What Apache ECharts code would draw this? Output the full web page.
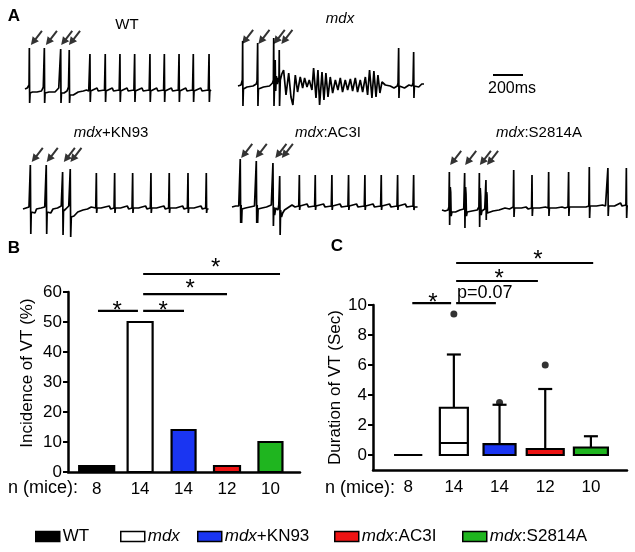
<!DOCTYPE html>
<html><head><meta charset="utf-8">
<script src="https://cdn.jsdelivr.net/npm/echarts@6/dist/echarts.min.js"></script>
<style>html,body{margin:0;padding:0;background:#fff}#c{width:635px;height:552px}</style>
</head><body><div id="c"></div>
<script>
// ---------------- data ----------------
const groups = ['WT', 'mdx', 'mdx+KN93', 'mdx:AC3I', 'mdx:S2814A'];
const nMice = ['8', '14', '14', '12', '10'];
const incidenceVT = [2, 50, 14, 2, 10];               // %
const incidenceTicks = [0, 10, 20, 30, 40, 50, 60];
// duration of VT (sec): [min, q1, median, q3, max]
const durationBox = [
  [0, 0, 0, 0, 0],
  [0, 0, 0.8, 3.15, 6.7],
  [0, 0, 0, 0.73, 3.35],
  [0, 0, 0, 0.4, 4.4],
  [0, 0, 0, 0.5, 1.25]
];
const durationOutliers = [[1, 9.4], [2, 3.5], [3, 6.0]];
const durationTicks = [0, 2, 4, 6, 8, 10];
// significance brackets: [x1, x2, yLine, xLabel, yLabel, label]
const sigB = [
  [0.03, 0.95, 53.7, 0.47, 55.7, '*'],
  [1.07, 2.01, 53.7, 1.53, 55.7, '*'],
  [1.07, 3.00, 59.3, 2.15, 63.0, '*'],
  [1.07, 4.22, 66.0, 2.74, 70.0, '*']
];
const sigC = [
  [0.09, 0.94, 10.13, 0.54, 10.53, '*'],
  [1.05, 1.92, 10.13, 1.07, 10.8, 'p=0.07'],
  [1.05, 2.84, 11.6, 1.99, 12.13, '*'],
  [1.05, 4.05, 12.8, 2.84, 13.4, '*']
];
// ECG traces: [time (ms), amplitude (a.u.)]
const traceWT = [[0,2],[15,3],[24,4],[27,6],[29,43],[31,-12],[34,-2],[50,-1],[80,-1],[110,0],[122,4],[127,5],[129,43],[131,-12],[134,-2],[160,-1],[200,-1],[225,3],[233,5],[238,42],[240,-12],[243,-2],[260,-2],[280,0],[290,4],[295,41],[297,-12],[300,-4],[322,-4],[355,-1],[389,0],[410,1],[425,0],[431,1],[433,37],[435,-11],[438,0],[480,3],[488,0],[530,1],[535,37],[537,-11],[540,0],[582,3],[590,0],[628,1],[633,37],[635,-11],[638,0],[680,3],[688,0],[726,1],[731,37],[733,-11],[736,0],[780,3],[788,0],[828,1],[833,37],[835,-11],[838,0],[878,3],[886,0],[924,1],[929,37],[931,-11],[934,0],[976,3],[984,0],[1022,1],[1027,37],[1029,-11],[1032,0],[1072,3],[1080,0],[1117,1],[1122,37],[1124,-11],[1127,0],[1172,3],[1180,0],[1222,1],[1227,37],[1229,-11],[1232,0],[1240,1]];
const traceMdx = [[0,0],[20,1],[27,3],[29,6],[31,45],[33,-20],[36,-3],[60,-1],[100,0],[122,2],[127,5],[129,5],[131,43],[133,-20],[136,-3],[170,-1],[210,0],[230,3],[236,6],[238,48],[240,-20],[243,-3],[248,26],[251,-5],[256,10],[262,2],[268,8],[273,4],[275,36],[277,-20],[282,6],[292,12],[304,16],[320,-9],[338,13],[353,-11],[366,-19],[382,11],[397,-6],[415,9],[431,-2],[444,8],[460,-1],[475,6],[493,-4],[504,18],[520,-12],[533,16],[544,-19],[560,14],[573,-14],[586,13],[600,-11],[615,9],[631,-7],[649,6],[666,-4],[682,8],[697,-6],[715,6],[731,-4],[749,7],[764,-5],[782,8],[797,-6],[815,6],[831,-6],[849,9],[864,-9],[877,16],[893,-12],[906,15],[920,-11],[933,11],[946,-7],[960,4],[982,1],[1015,0],[1040,-2],[1062,0],[1067,3],[1071,38],[1073,-12],[1076,0],[1110,-2],[1140,1],[1160,0],[1167,3],[1171,34],[1173,-12],[1176,0],[1205,-1],[1225,2],[1240,2]];
const traceKN93 = [[0,0],[20,1],[40,2],[46,4],[49,44],[52,-25],[55,-3],[62,-1],[80,-4],[90,0],[120,1],[145,2],[152,4],[155,44],[158,-25],[161,-3],[185,-4],[200,0],[230,1],[255,3],[261,5],[264,37],[267,-26],[270,-2],[285,0],[305,3],[312,5],[315,40],[318,-28],[322,-8],[340,-7],[365,-3],[400,-1],[430,0],[455,2],[465,0],[485,1],[489,36],[491,-4],[494,1],[520,1],[575,3],[585,0],[607,1],[611,36],[613,-4],[616,1],[650,1],[695,3],[705,0],[727,1],[731,36],[733,-4],[736,1],[770,1],[817,3],[827,0],[849,1],[853,36],[855,-4],[858,1],[890,1],[939,3],[949,0],[971,1],[975,36],[977,-4],[980,1],[1020,1],[1064,3],[1074,0],[1096,1],[1100,36],[1102,-4],[1105,1],[1140,1],[1186,3],[1196,0],[1218,1],[1222,36],[1224,-4],[1227,0],[1237,0]];
const traceAC3I = [[0,0],[25,1],[45,1],[52,3],[55,48],[58,-16],[61,2],[64,-16],[67,-2],[90,-1],[120,0],[150,1],[159,3],[162,46],[165,-16],[168,2],[171,-16],[174,-2],[200,-1],[230,0],[262,2],[270,3],[273,44],[276,-19],[279,0],[284,-8],[292,-1],[306,-3],[312,2],[318,31],[321,-28],[324,-3],[330,-10],[338,-6],[350,-3],[370,-1],[400,2],[420,0],[445,1],[449,32],[451,-3],[454,1],[500,3],[510,0],[551,1],[555,32],[557,-3],[560,1],[610,3],[620,0],[662,1],[666,32],[668,-3],[671,1],[720,3],[730,0],[773,1],[777,32],[779,-3],[782,1],[830,3],[840,0],[882,1],[886,32],[888,-3],[891,1],[940,3],[950,0],[991,1],[995,32],[997,-3],[1000,1],[1050,3],[1060,0],[1100,1],[1104,32],[1106,-3],[1109,1],[1155,3],[1165,0],[1207,1],[1211,32],[1213,-3],[1216,0],[1237,0]];
const traceS2814A = [[0,0],[20,-1],[40,0],[46,3],[49,38],[51,-15],[53,10],[55,23],[58,18],[61,-6],[66,-2],[90,-2],[120,0],[145,1],[148,3],[151,37],[153,-18],[155,10],[157,23],[160,16],[163,-6],[168,-2],[200,-1],[235,0],[246,3],[249,37],[251,-17],[253,8],[255,22],[258,14],[261,-5],[266,-1],[285,1],[290,3],[293,30],[295,-10],[298,18],[300,15],[303,-3],[310,-2],[340,-1],[380,0],[420,2],[450,1],[475,3],[478,40],[480,-7],[483,2],[530,2],[560,3],[575,1],[597,2],[600,35],[602,-6],[605,2],[650,2],[690,3],[708,2],[711,38],[713,-6],[716,2],[760,2],[800,3],[820,2],[840,3],[844,38],[846,-6],[849,3],[900,3],[940,3],[960,3],[979,4],[982,43],[984,-8],[987,4],[1030,4],[1070,5],[1090,4],[1103,5],[1106,42],[1108,-6],[1111,4],[1150,4],[1190,7],[1200,4],[1226,5],[1229,42],[1231,-8],[1234,4],[1240,4]];
// stimulus arrows (centre of each arrow): [time (ms), amplitude]
const arrowsWT = [[76,53],[176,53],[278,53],[330,53]];
const arrowsMdx = [[64,49],[173,49],[275,49],[326,49]];
const arrowsKN93 = [[95,54],[195,54],[309,54],[353,54]];
const arrowsAC3I = [[98,56],[195,56],[326,56],[369,56]];
const arrowsS2814A = [[91,52],[191,52],[289,52],[337,52]];
const traceTitles = ['WT', 'mdx', 'mdx+KN93', 'mdx:AC3I', 'mdx:S2814A'];

// ---------------- styles ----------------
const FONT = '"Liberation Sans", Arial, Helvetica, sans-serif';
const colors = ['#000000', '#ffffff', '#1a35f2', '#ee1414', '#1fb51f'];
const barWidthsB = [35, 25, 24, 26, 24];
const boxWidthsC = [28, 28, 32, 37, 34];
const traceLayout = [ // grid left/top for each trace (WT, mdx, KN93, AC3I, S2814A)
  {left: 25, top: 31}, {left: 238, top: 26}, {left: 23, top: 149}, {left: 232, top: 147}, {left: 442, top: 150}
];
const traceData = [traceWT, traceMdx, traceKN93, traceAC3I, traceS2814A];
const arrowData = [arrowsWT, arrowsMdx, arrowsKN93, arrowsAC3I, arrowsS2814A];
const titlePos = [[127, 25], [340, 19], [111, 133], [328, 133], [539, 133]];

function richName(n) { return n.indexOf('mdx') === 0 ? '{i|mdx}' + n.slice(3) : n; }

const chart = echarts.init(document.getElementById('c'), null, {renderer: 'canvas'});

const grids = [
  {left: 68, top: 292, width: 232, height: 180},   // B
  {left: 373, top: 305, width: 254, height: 165}  // C
];
traceLayout.forEach(t => grids.push({left: t.left, top: t.top, width: 186, height: 90}));

const axisCommon = {
  axisLine: {show: true, onZero: false, lineStyle: {color: '#000', width: 2.5}},
  splitLine: {show: false},
  axisLabel: {color: '#000', fontSize: 16, fontFamily: FONT},
  axisTick: {show: true, length: 5, lineStyle: {color: '#000', width: 2}}
};

const xAxes = [
  Object.assign({}, axisCommon, {gridIndex: 0, type: 'value', min: -0.66, max: 4.68,
    axisTick: {show: false},
    axisLabel: {color: '#000', fontSize: 17, fontFamily: FONT, margin: 9, customValues: [0,1,2,3,4], formatter: v => nMice[Math.round(v)]}}),
  Object.assign({}, axisCommon, {gridIndex: 1, type: 'value', min: -0.77, max: 4.79,
    axisTick: {show: false},
    axisLabel: {color: '#000', fontSize: 17, fontFamily: FONT, margin: 9, customValues: [0,1,2,3,4], formatter: v => nMice[Math.round(v)]}})
];
const yAxes = [
  Object.assign({}, axisCommon, {gridIndex: 0, type: 'value', min: 0, max: 60, interval: 10,
    axisLabel: {color: '#000', fontSize: 17, fontFamily: FONT, margin: 6, customValues: incidenceTicks},
    axisTick: {show: true, length: 5, lineStyle: {color: '#000', width: 2}, customValues: incidenceTicks},
    name: 'Incidence of VT (%)', nameLocation: 'middle', nameGap: 32,
    nameTextStyle: {color: '#000', fontSize: 17, fontFamily: FONT, padding: [0, 0, 0, 18]}}),
  Object.assign({}, axisCommon, {gridIndex: 1, type: 'value', min: -1, max: 10,
    axisLabel: {color: '#000', fontSize: 17, fontFamily: FONT, margin: 6, customValues: durationTicks},
    axisTick: {show: true, length: 5, lineStyle: {color: '#000', width: 2}, customValues: durationTicks},
    name: 'Duration of VT (Sec)', nameLocation: 'middle', nameGap: 24,
    nameTextStyle: {color: '#000', fontSize: 17, fontFamily: FONT}})
];
for (let k = 0; k < 5; k++) {
  xAxes.push({gridIndex: k + 2, type: 'value', min: 0, max: 1240, show: false});
  yAxes.push({gridIndex: k + 2, type: 'value', min: -30, max: 60, show: false});
}

const series = [];
// Panel B bars (one series per group)
groups.forEach((g, i) => {
  series.push({
    name: g, type: 'custom', xAxisIndex: 0, yAxisIndex: 0,
    data: [[i, incidenceVT[i]]],
    renderItem: (params, api) => {
      const idx = api.value(0), v = api.value(1);
      const w = barWidthsB[idx];
      const p0 = api.coord([idx, 0]), p1 = api.coord([idx, v]);
      return {type: 'rect', shape: {x: p0[0] - w / 2, y: p1[1], width: w, height: p0[1] - p1[1]},
        style: {fill: colors[idx], stroke: '#000', lineWidth: 2.2}};
    }
  });
});
// Panel C boxes (one series per group)
groups.forEach((g, i) => {
  series.push({
    name: g, type: 'custom', xAxisIndex: 1, yAxisIndex: 1,
    data: [[i].concat(durationBox[i])],
    renderItem: (params, api) => {
      const idx = api.value(0);
      const mn = api.value(1), q1 = api.value(2), md = api.value(3), q3 = api.value(4), mx = api.value(5);
      const w = boxWidthsC[idx];
      const cx = api.coord([idx, 0])[0];
      const y = v => api.coord([idx, v])[1];
      const ch = [];
      const st = {stroke: '#000', lineWidth: 2.2};
      if (mx > q3) {
        ch.push({type: 'line', shape: {x1: cx, y1: y(q3), x2: cx, y2: y(mx)}, style: st});
        ch.push({type: 'line', shape: {x1: cx - 7, y1: y(mx), x2: cx + 7, y2: y(mx)}, style: st});
      }
      if (mn < q1) {
        ch.push({type: 'line', shape: {x1: cx, y1: y(q1), x2: cx, y2: y(mn)}, style: st});
      }
      ch.push({type: 'rect', shape: {x: cx - w / 2, y: y(q3), width: w, height: y(q1) - y(q3)},
        style: {fill: colors[idx], stroke: '#000', lineWidth: 2.2}});
      ch.push({type: 'line', shape: {x1: cx - w / 2, y1: y(md), x2: cx + w / 2, y2: y(md)}, style: {stroke: '#000', lineWidth: 2}});
      return {type: 'group', children: ch};
    }
  });
});
series.push({
  type: 'scatter', xAxisIndex: 1, yAxisIndex: 1, data: durationOutliers,
  symbol: 'circle', symbolSize: 7, itemStyle: {color: '#000'}, clip: false
});
// significance brackets
function sigRender(aligns) {
  return (params, api) => {
    const a = api.coord([api.value(0), api.value(2)]);
    const b = api.coord([api.value(1), api.value(2)]);
    const t = api.coord([api.value(3), api.value(4)]);
    const label = api.value(5);
    const isStar = label === '*';
    return {type: 'group', children: [
      {type: 'line', shape: {x1: a[0], y1: a[1], x2: b[0], y2: b[1]}, style: {stroke: '#000', lineWidth: 2.2}},
      {type: 'text', x: t[0], y: isStar ? t[1] + 6 : t[1],
        style: {text: label, fill: '#000', fontSize: isStar ? 24 : 18, fontFamily: FONT,
          align: aligns[params.dataIndex], verticalAlign: 'middle'}}
    ]};
  };
}
series.push({type: 'custom', xAxisIndex: 0, yAxisIndex: 0, data: sigB, clip: false,
  dimensions: ['x1','x2','y','tx','ty',{name:'label', type:'ordinal'}],
  renderItem: sigRender(['center','center','center','center'])});
series.push({type: 'custom', xAxisIndex: 1, yAxisIndex: 1, data: sigC, clip: false,
  dimensions: ['x1','x2','y','tx','ty',{name:'label', type:'ordinal'}],
  renderItem: sigRender(['center','left','center','center'])});

// ECG traces and stimulus arrows
const arrowPath = 'path://M3,0 L5,0 L5,10 L8,10 L4,18 L0,10 L3,10 Z';
for (let k = 0; k < 5; k++) {
  series.push({type: 'line', xAxisIndex: k + 2, yAxisIndex: k + 2, data: traceData[k],
    symbol: 'none', silent: true, lineStyle: {color: '#000', width: 1.7}});
  series.push({type: 'scatter', xAxisIndex: k + 2, yAxisIndex: k + 2, data: arrowData[k],
    symbol: arrowPath, symbolSize: [8, 18], symbolRotate: -38, clip: false, silent: true,
    itemStyle: {color: '#000'}});
}

const legendPos = [35, 120, 197, 334, 462];
const legends = groups.map((g, i) => ({
  left: legendPos[i], top: 528, padding: 0, itemWidth: 24, itemHeight: 10, selectedMode: false,
  icon: 'rect',
  data: [{name: g, itemStyle: {color: colors[i], borderColor: '#000', borderWidth: 1.5}}],
  formatter: richName,
  textStyle: {color: '#000', fontSize: 17, fontFamily: FONT, padding: [0, 0, 0, -2],
    rich: {i: {fontStyle: 'italic', fontSize: 17, fontFamily: FONT, color: '#000'}}}
}));

const graphics = [
  {type: 'text', x: 14, y: 16, style: {text: 'A', fontSize: 17, fontWeight: 'bold', fontFamily: FONT, fill: '#000', align: 'center', verticalAlign: 'middle'}},
  {type: 'text', x: 14, y: 248, style: {text: 'B', fontSize: 17, fontWeight: 'bold', fontFamily: FONT, fill: '#000', align: 'center', verticalAlign: 'middle'}},
  {type: 'text', x: 337, y: 246, style: {text: 'C', fontSize: 17, fontWeight: 'bold', fontFamily: FONT, fill: '#000', align: 'center', verticalAlign: 'middle'}},
  {type: 'text', x: 8, y: 488, style: {text: 'n (mice):', fontSize: 18, fontFamily: FONT, fill: '#000', align: 'left', verticalAlign: 'middle'}},
  {type: 'text', x: 325, y: 488, style: {text: 'n (mice):', fontSize: 18, fontFamily: FONT, fill: '#000', align: 'left', verticalAlign: 'middle'}},
  {type: 'line', shape: {x1: 493, y1: 75, x2: 523, y2: 75}, style: {stroke: '#000', lineWidth: 2}},
  {type: 'text', x: 512, y: 89, style: {text: '200ms', fontSize: 16, fontFamily: FONT, fill: '#000', align: 'center', verticalAlign: 'middle'}}
];
traceTitles.forEach((t, i) => {
  graphics.push({type: 'text', x: titlePos[i][0], y: titlePos[i][1],
    style: {text: richName(t), fontSize: 15, fontFamily: FONT, fill: '#000', align: 'center', verticalAlign: 'middle',
      rich: {i: {fontStyle: 'italic', fontSize: 15, fontFamily: FONT, fill: '#000'}}}});
});

chart.setOption({
  animation: false,
  backgroundColor: '#fff',
  grid: grids,
  xAxis: xAxes,
  yAxis: yAxes,
  legend: legends,
  series: series,
  graphic: graphics
});
</script></body></html>
